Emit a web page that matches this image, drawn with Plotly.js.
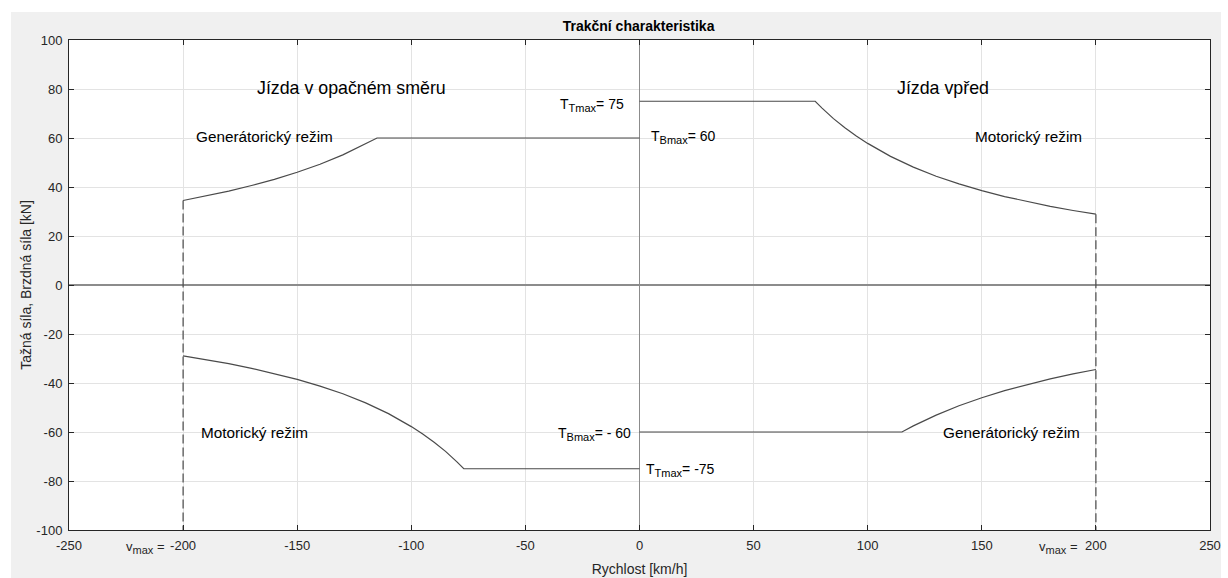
<!DOCTYPE html>
<html><head><meta charset="utf-8">
<script src="https://cdn.plot.ly/plotly-3.0.1.min.js"></script>
<style>html,body{margin:0;padding:0;background:#fff}#chart{width:1228px;height:578px}</style>
</head><body><div id="chart"></div><script>
// Forward traction (Jízda vpřed, Motorický režim)
const fwdTractionSpeed = [0, 77, 80, 85, 90, 95, 100, 110, 120, 130, 140, 150, 160, 170, 180, 190, 200];
const fwdTractionForce = [75, 75, 72.2, 67.9, 64.2, 60.8, 57.8, 52.5, 48.1, 44.4, 41.3, 38.5, 36.1, 34.0, 32.1, 30.4, 28.9];
// Forward braking (Jízda vpřed, Generátorický režim)
const fwdBrakeSpeed = [0, 115, 120, 130, 140, 150, 160, 170, 180, 190, 200];
const fwdBrakeForce = [-60, -60, -57.5, -53.1, -49.3, -46.0, -43.1, -40.6, -38.3, -36.3, -34.5];
// Reverse braking (Jízda v opačném směru, Generátorický režim)
const revBrakeSpeed = [-200, -190, -180, -170, -160, -150, -140, -130, -120, -115, 0];
const revBrakeForce = [34.5, 36.3, 38.3, 40.6, 43.1, 46.0, 49.3, 53.1, 57.5, 60, 60];
// Reverse traction (Jízda v opačném směru, Motorický režim)
const revTractionSpeed = [-200, -190, -180, -170, -160, -150, -140, -130, -120, -110, -100, -95, -90, -85, -80, -77, 0];
const revTractionForce = [-28.9, -30.4, -32.1, -34.0, -36.1, -38.5, -41.3, -44.4, -48.1, -52.5, -57.8, -60.8, -64.2, -67.9, -72.2, -75, -75];
// v_max limits (dashed)
const vmaxLeftX = [-200, -200];
const vmaxLeftY = [34.5, -100];
const vmaxRightX = [200, 200];
const vmaxRightY = [28.9, -100];

const xTicks = [-250, -200, -150, -100, -50, 0, 50, 100, 150, 200, 250];
const xTickText = ['-250', '-200', '-150', '-100', '-50', '0', '50', '100', '150', '200', '250'];
const yTicks = [-100, -80, -60, -40, -20, 0, 20, 40, 60, 80, 100];
const yTickText = ['-100', '-80', '-60', '-40', '-20', '0', '20', '40', '60', '80', '100'];

const lineStyle = {color: '#4a4a4a', width: 1.2};
const dashStyle = {color: '#4a4a4a', width: 1.2, dash: '9px,4px'};

const traces = [
  {x: fwdTractionSpeed, y: fwdTractionForce, mode: 'lines', line: lineStyle},
  {x: fwdBrakeSpeed, y: fwdBrakeForce, mode: 'lines', line: lineStyle},
  {x: revBrakeSpeed, y: revBrakeForce, mode: 'lines', line: lineStyle},
  {x: revTractionSpeed, y: revTractionForce, mode: 'lines', line: lineStyle},
  {x: vmaxLeftX, y: vmaxLeftY, mode: 'lines', line: dashStyle},
  {x: vmaxRightX, y: vmaxRightY, mode: 'lines', line: dashStyle}
];

const F = 'Liberation Sans, Arial, Helvetica, sans-serif';
const txt = '#000000';
function sub(s) { return '<sub><span style="font-size:11px">' + s + '</span></sub>'; }
function ann(x, y, text, size, xanchor) {
  return {x: x, y: y, xref: 'x', yref: 'y', text: text, showarrow: false,
    xanchor: xanchor || 'center', yanchor: 'middle', font: {family: F, size: size, color: txt}};
}

const annotations = [
  ann(-126, 80.5, 'Jízda v opačném směru', 17.8),
  ann(133, 80.5, 'Jízda vpřed', 17.8),
  ann(-164.4, 60.5, 'Generátorický režim', 15.3),
  ann(170.3, 60.5, 'Motorický režim', 15.3),
  ann(-168.5, -60, 'Motorický režim', 15.3),
  ann(163, -60, 'Generátorický režim', 15.3),
  ann(-6, 73.5, 'T' + sub('Tmax') + '= 75', 14, 'right'),
  ann(4, 60.3, 'T' + sub('Bmax') + '= 60', 14, 'left'),
  ann(-3, -61, 'T' + sub('Bmax') + '= - 60', 14, 'right'),
  ann(2, -75.5, 'T' + sub('Tmax') + '= -75', 14, 'left'),
  {x: -207, y: -0.036, xref: 'x', yref: 'paper', text: 'v' + sub('max') + ' =', showarrow: false,
    xanchor: 'right', yanchor: 'middle', font: {family: F, size: 13, color: '#262626'}},
  {x: 193, y: -0.036, xref: 'x', yref: 'paper', text: 'v' + sub('max') + ' =', showarrow: false,
    xanchor: 'right', yanchor: 'middle', font: {family: F, size: 13, color: '#262626'}}
];

const axisCommon = {
  showline: true, linecolor: '#262626', linewidth: 1, mirror: 'ticks',
  ticks: 'inside', ticklen: 5, tickwidth: 1, tickcolor: '#262626',
  showgrid: true, gridcolor: '#e3e3e3', gridwidth: 1,
  zeroline: true, zerolinecolor: '#8c8c8c', zerolinewidth: 1.3,
  tickfont: {family: F, size: 13, color: '#262626'}, tickmode: 'array'
};

const layout = {
  width: 1228, height: 578,
  margin: {l: 69, r: 18, t: 40, b: 48},
  paper_bgcolor: '#f0f0f0', plot_bgcolor: '#ffffff',
  showlegend: false,
  title: {text: '<b>Trakční charakteristika</b>', x: 0.52, xanchor: 'center',
    y: 1 - 26 / 578, yref: 'container', yanchor: 'middle',
    font: {family: F, size: 14, color: '#000'}},
  xaxis: Object.assign({}, axisCommon, {range: [-250, 250], tickvals: xTicks, ticktext: xTickText,
    ticklabelstandoff: 3,
    title: {text: 'Rychlost [km/h]', standoff: 12, font: {family: F, size: 14, color: '#262626'}}}),
  yaxis: Object.assign({}, axisCommon, {range: [-100, 100], tickvals: yTicks, ticktext: yTickText,
    ticklabelstandoff: 3,
    title: {text: 'Tažná síla, Brzdná síla [kN]', standoff: 1, font: {family: F, size: 14, color: '#262626'}}}),
  annotations: annotations,
  shapes: [
    {type: 'rect', xref: 'paper', yref: 'paper', x0: -0.07, x1: 1.02, y0: (530 - 12) / 490, y1: 1.1, fillcolor: '#ffffff', line: {width: 0}, layer: 'above'},
    {type: 'rect', xref: 'paper', yref: 'paper', x0: -0.07, x1: (11 - 69) / 1141, y0: -0.12, y1: 1.1, fillcolor: '#ffffff', line: {width: 0}, layer: 'above'},
    {type: 'rect', xref: 'paper', yref: 'paper', x0: (1221 - 69) / 1141, x1: 1.03, y0: -0.12, y1: 1.1, fillcolor: '#ffffff', line: {width: 0}, layer: 'above'}
  ]
};

Plotly.newPlot('chart', traces, layout, {displayModeBar: false, staticPlot: true});
</script></body></html>
